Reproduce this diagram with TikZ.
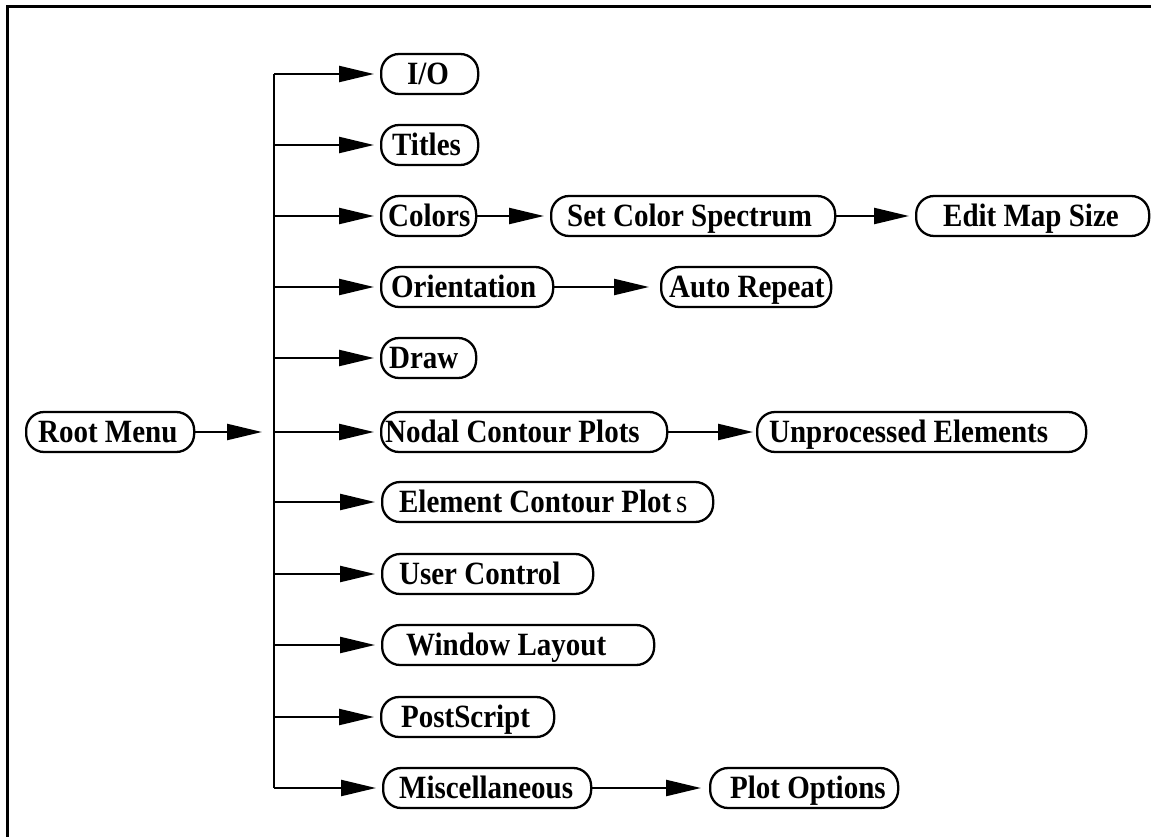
\documentclass[tikz,border=0pt]{standalone}
\usepackage{graphicx}
\usepackage{fontspec}
\setmainfont{Liberation Serif}
\usetikzlibrary{arrows.meta,positioning}
% box of width #1 with the text set #2 in from its left side
\newcommand{\boxtext}[3]{\makebox[#1pt][l]{\hspace*{#2pt}\scalebox{1}[1.12]{#3}}}
\tikzset{
  menu/.style={draw, line width=2.3pt, rounded corners=18pt, minimum height=40pt,
    inner xsep=0pt, inner ysep=0pt, text height=22pt, text depth=1pt, anchor=west,
    font=\fontsize{29}{33}\selectfont\bfseries},
  arr/.style={line width=2.3pt, -{Triangle[length=35pt,width=16pt]}, shorten >=6pt},
}
\begin{document}
\begin{tikzpicture}[x=1pt,y=-1pt]
\useasboundingbox (0,0) rectangle (1151,837);
% frame
\draw[line width=3pt] (7,837) -- (7,7) -- (1151,7);
% root
\node[menu] (root) at (25,432) {\boxtext{168}{12}{Root Menu}};
\coordinate (rootend) at (262,432);
\coordinate (trunk) at (274,432);
\draw[arr, shorten >=0pt] (root) -- (rootend);
% first column
\node[menu] (io) at (380,74) {\boxtext{97}{26}{I/O}};
\node[menu] (titles) at (380,145) {\boxtext{97}{11}{Titles}};
\node[menu] (colors) at (380,216) {\boxtext{95}{7}{Colors}};
\node[menu] (orient) at (380,287) {\boxtext{172}{10}{Orientation}};
\node[menu] (drawmenu) at (380,358) {\boxtext{95}{8}{Draw}};
\node[menu] (nodal) at (380,432) {\boxtext{286}{4}{Nodal Contour Plots}};
\node[menu] (element) at (381,502) {\boxtext{331}{17}{Element Contour Plot\,{\mdseries s}}};
\node[menu] (user) at (381,574) {\boxtext{211}{17}{User Control}};
\node[menu] (window) at (381,645) {\boxtext{272}{24}{Window Layout}};
\node[menu] (ps) at (380,717) {\boxtext{173}{20}{PostScript}};
\node[menu] (misc) at (382,788) {\boxtext{208}{16}{Miscellaneous}};
% second column
\node[menu] (spectrum) at (550,216) {\boxtext{284}{16}{Set Color Spectrum}};
\node[menu] (mapsize) at (915,216) {\boxtext{233}{27}{Edit Map Size}};
\node[menu] (autorep) at (660,287) {\boxtext{170}{8}{Auto Repeat}};
\node[menu] (unproc) at (756,432) {\boxtext{329}{12}{Unprocessed Elements}};
\node[menu] (plotopt) at (709,788) {\boxtext{188}{20}{Plot Options}};
% connectors
\draw[line width=2.3pt] (trunk |- io.west) -- (trunk |- misc.west);
\foreach \n in {io,titles,colors,orient,drawmenu,nodal,element,user,window,ps,misc}
  \draw[arr] (trunk |- \n.west) -- (\n.west);
\draw[arr] (colors) -- (spectrum);
\draw[arr] (spectrum) -- (mapsize);
\draw[arr, shorten >=11pt] (orient) -- (autorep);
\draw[arr, shorten >=3pt] (nodal) -- (unproc);
\draw[arr, shorten >=8pt] (misc) -- (plotopt);
\end{tikzpicture}
\end{document}
